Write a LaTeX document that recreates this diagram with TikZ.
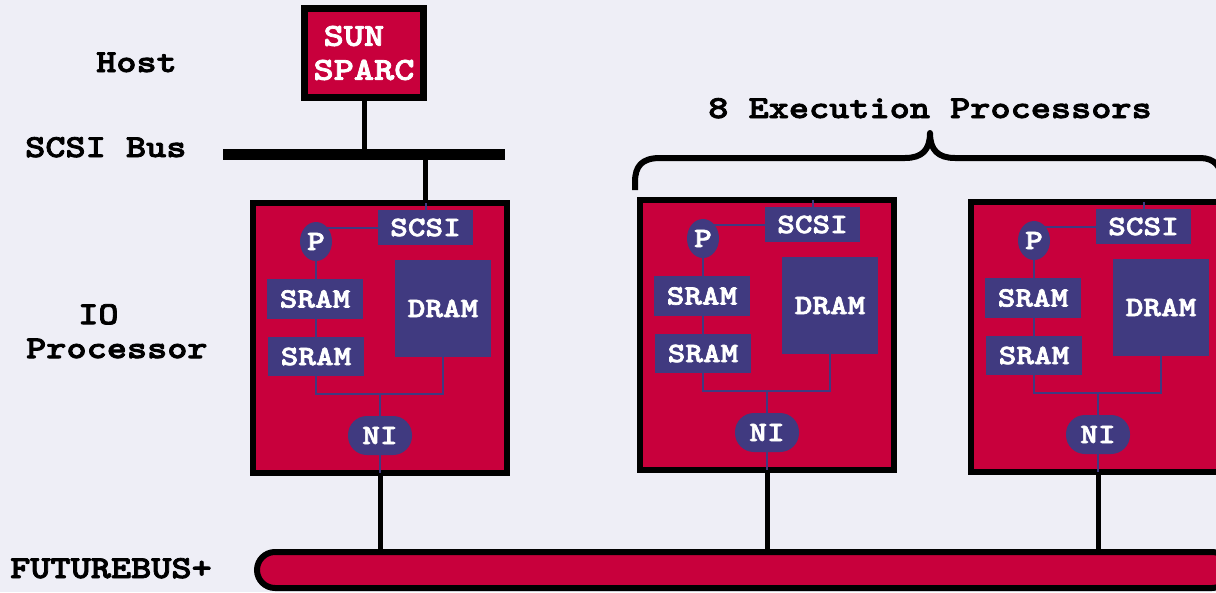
\documentclass[tikz,border=0pt]{standalone}
\usepackage{fontspec}
\newfontfamily\courfont{lmmonolt10-bold.otf}[FakeStretch=1.2,FakeBold=2.5]
\usepackage{tikz}
\usetikzlibrary{shapes.geometric}
\definecolor{bgpanel}{RGB}{238,238,246}
\definecolor{boardred}{RGB}{200,0,60}
\definecolor{chippurple}{RGB}{64,58,128}
\newcommand{\lblfont}{\fontsize{32}{34}\selectfont\courfont}
\newcommand{\chipfont}{\fontsize{28}{30}\selectfont\courfont}
\pgfdeclarelayer{boardlayer}
\pgfdeclarelayer{wirelayer}
\pgfsetlayers{boardlayer,wirelayer,main}

\begin{document}
\begin{tikzpicture}[x=1pt,y=-1pt,
  board/.style={draw,line width=6pt,fill=boardred,outer sep=0pt,inner sep=0pt,minimum width=254pt,minimum height=270pt},
  chip/.style={fill=chippurple,text=white,font=\chipfont,inner sep=0pt,outer sep=0pt},
  wire/.style={draw=chippurple,line width=2pt},
  cable/.style={line width=5pt},
  lbl/.style={font=\lblfont,inner sep=0pt}]
\useasboundingbox (0,0) rectangle (1216,592);
\begin{pgfonlayer}{boardlayer}
\fill[bgpanel] (0,0) rectangle (1216,592);
\end{pgfonlayer}

% host and scsi bus
\node[draw,line width=7pt,fill=boardred,outer sep=0pt,minimum width=119pt,minimum height=89pt,text=white,font=\lblfont,align=center] (host) at (364,53) {SUN\hphantom{N}\\SPARC};
\node[fill=black,inner sep=0pt,outer sep=0pt,minimum width=282pt,minimum height=11pt] (scsibus) at (364,154) {};
\draw[cable] (host) -- (host |- scsibus);

% futurebus
\node[draw,line width=6pt,fill=boardred,rounded corners=18pt,inner sep=0pt,outer sep=0pt,minimum width=973pt,minimum height=36pt] (futurebus) at (743.5,570) {};

% boards
\foreach \n/\bx/\by in {io/250/200,ep1/637/197,ep2/968/199}{
  \begin{scope}[shift={(\bx,\by)}]
  \begin{pgfonlayer}{boardlayer}
  \node[board,anchor=north west] (\n-board) at (3,3) {};
  \end{pgfonlayer}
  \node[chip,minimum width=95pt,minimum height=35pt] (\n-scsi) at (175.5,27.5) {SCSI};
  \node[chip,ellipse,minimum width=32pt,minimum height=39pt] (\n-p) at (66,41.5) {P};
  \node[chip,minimum width=96pt,minimum height=40pt] (\n-sram1) at (65,99) {SRAM};
  \node[chip,minimum width=96pt,minimum height=39pt] (\n-sram2) at (66,156.5) {SRAM};
  \node[chip,minimum width=96pt,minimum height=97pt] (\n-dram) at (193,108.5) {DRAM};
  \node[chip,rounded corners=19pt,minimum width=64pt,minimum height=39pt] (\n-ni) at (130,235.5) {NI};
  \coordinate (\n-join) at (130,194);
  \begin{pgfonlayer}{wirelayer}
  \draw[wire] (\n-scsi) -- (\n-scsi |- \n-board.north);
  \draw[wire] (\n-scsi.west) -- (\n-scsi.west -| \n-p.center);
  \draw[wire] (\n-p) -- (\n-p |- \n-sram2.center);
  \draw[wire] (\n-sram2.center) |- (\n-join) -| (\n-dram.center);
  \draw[wire] (\n-join) -- (\n-ni);
  \draw[wire] (\n-ni) -- (\n-ni |- \n-board.south);
  \end{pgfonlayer}
  \draw[cable] (\n-ni |- \n-board.south) -- (\n-ni |- futurebus.north);
  \end{scope}
}
\draw[cable] (scsibus.south -| io-scsi) -- (io-scsi |- io-board.north);

% brace over the execution processors
\draw[line width=6pt,line join=round] (635,190) -- (635,182) .. controls (635,166) and (642,158) .. (660,158) -- (905,158) .. controls (922,158) and (930,150) .. (930,133) .. controls (930,150) and (938,158) .. (955,158) -- (1200,158) .. controls (1214,158) and (1222,166) .. (1222,182) -- (1222,200);

% labels
\node[lbl,anchor=base west] (host-lbl) at (96,72) {Host};
\node[lbl,anchor=base west] (scsibus-lbl) at (25,157) {SCSI Bus};
\node[lbl,anchor=north west,align=left] (io-lbl) at (26,304) {\hspace*{52pt}IO\\Processor};
\node[lbl,anchor=base] (ep-lbl) at (930,118) {8 Execution Processors};
\node[lbl,anchor=base west] (futurebus-lbl) at (10,578) {FUTUREBUS+};
\end{tikzpicture}
\end{document}
